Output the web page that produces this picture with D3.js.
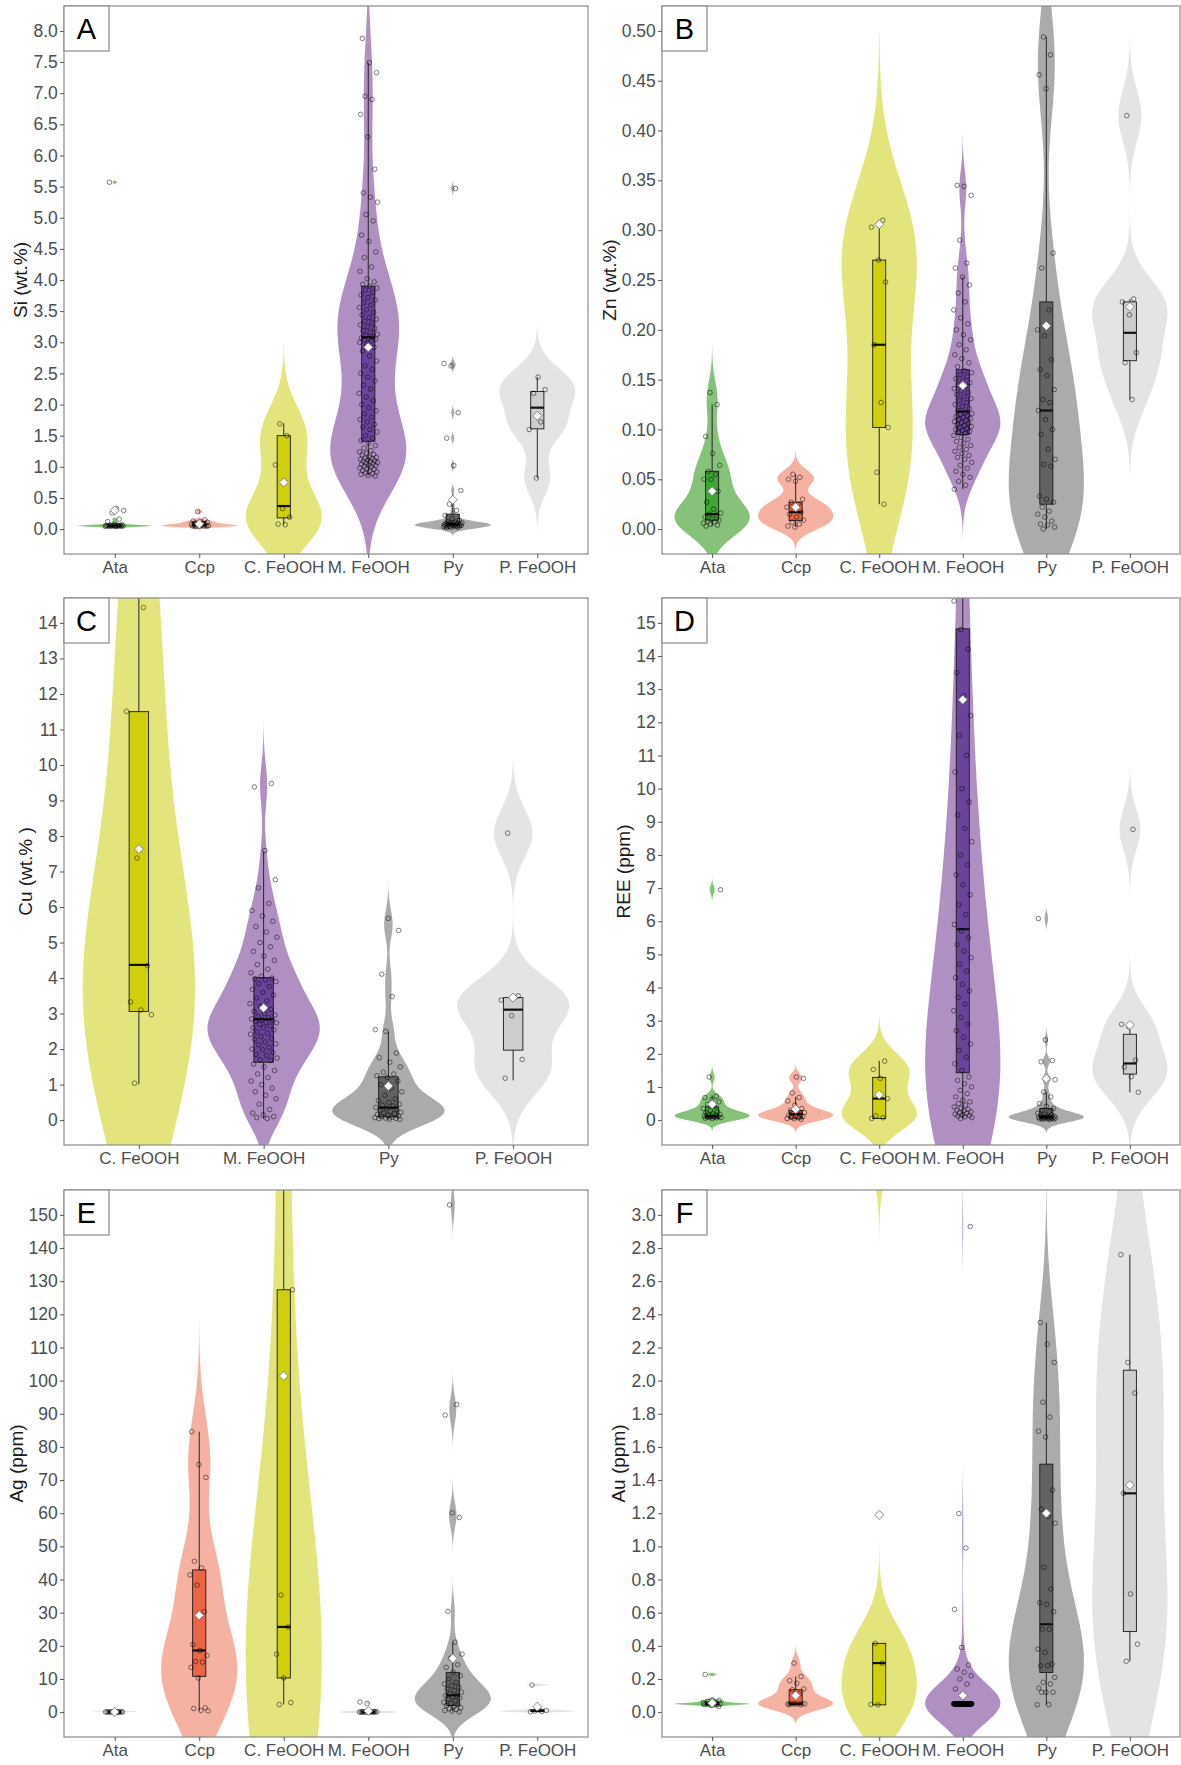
<!DOCTYPE html>
<html>
<head>
<meta charset="utf-8">
<script src="https://cdn.jsdelivr.net/npm/d3@7"></script>
<style>
  body { margin: 0; background: #fff; }
  svg { display: block; }
</style>
</head>
<body>
<svg id="chart" width="1181" height="1765"></svg>
<script>
// categories and colours
const minerals = ["Ata", "Ccp", "C. FeOOH", "M. FeOOH", "Py", "P. FeOOH"]
const mineralsCu = ["C. FeOOH", "M. FeOOH", "Py", "P. FeOOH"]
const violinFill = { "Ata": "#86c27a", "Ccp": "#f5b2a3", "C. FeOOH": "#e3e57c", "M. FeOOH": "#b08fc2", "Py": "#ababab", "P. FeOOH": "#e4e4e4" }
const boxFill = { "Ata": "#3fa535", "Ccp": "#eb6446", "C. FeOOH": "#cfcf0d", "M. FeOOH": "#6a449b", "Py": "#626262", "P. FeOOH": "#cdcdcd" }

// box stats per category: [lower whisker, q1, median, q3, upper whisker, mean]

// A - Si (wt.%)
const siAta = [0.04, 0.042, 0.044, 0.046, 0.048, 0.05, 0.05, 0.05, 0.05, 0.052, 0.054, 0.056, 0.058, 0.06, 0.062, 0.065, 0.07, 0.08, 0.12, 0.16, 0.26, 0.30, 0.33, 5.57]
const siCcp = [0.04, 0.045, 0.048, 0.05, 0.05, 0.052, 0.055, 0.058, 0.06, 0.065, 0.07, 0.08, 0.09, 0.1, 0.11, 0.12, 0.13, 0.15, 0.28]
const siCFeOOH = [0.07, 0.08, 0.19, 0.33, 1.03, 1.5, 1.69]
const siMFeOOH = [0.85, 0.86, 0.88, 0.89, 0.90, 0.92, 0.93, 0.94, 0.96, 0.97, 0.98, 1.00, 1.01, 1.02, 1.03, 1.04, 1.05, 1.06, 1.07, 1.08, 1.09, 1.10, 1.11, 1.12, 1.13, 1.14, 1.15, 1.16, 1.19, 1.20, 1.22, 1.24, 1.26, 1.30, 1.34, 1.38,
  1.42, 1.46, 1.50, 1.56, 1.60, 1.64, 1.68, 1.72, 1.76, 1.80, 1.85, 1.90, 1.95, 2.00, 2.06, 2.12, 2.18, 2.25, 2.31, 2.38, 2.44, 2.50, 2.56, 2.62, 2.70, 2.78, 2.86, 2.92, 2.96, 3.00, 3.02, 3.04, 3.05, 3.06, 3.07,
  3.09, 3.11, 3.13, 3.16, 3.19, 3.22, 3.25, 3.28, 3.31, 3.34, 3.37, 3.40, 3.44, 3.48, 3.52, 3.56, 3.60, 3.64, 3.68, 3.72, 3.76, 3.80, 3.84, 3.87, 3.90,
  3.93, 3.97, 4.02, 4.14, 4.21, 4.36, 4.45, 4.62, 4.72, 4.95, 5.05, 5.25, 5.33, 5.40, 5.78, 6.30, 6.66, 6.90, 6.95, 7.33, 7.49, 7.88]
const siPy = [0.02, 0.03, 0.03, 0.04, 0.04, 0.04, 0.05, 0.05, 0.05, 0.05, 0.05, 0.06, 0.06, 0.06, 0.06, 0.07, 0.07, 0.07, 0.08, 0.08, 0.08, 0.09, 0.09, 0.1, 0.1, 0.11, 0.12, 0.14, 0.17, 0.22, 0.3, 0.4, 0.62, 1.02, 1.46, 1.87, 2.62, 2.66, 5.47]
const siPFeOOH = [0.82, 1.6, 1.72, 2.18, 2.24, 2.44]
const siBox = [[0.04, 0.048, 0.05, 0.06, 0.08, 0.30], [0.04, 0.05, 0.065, 0.12, 0.15, 0.08], [0.07, 0.18, 0.37, 1.50, 1.70, 0.75],
  [0.86, 1.41, 3.08, 3.90, 7.49, 2.92], [0.02, 0.06, 0.08, 0.24, 0.56, 0.47], [0.82, 1.61, 1.95, 2.21, 2.44, 1.82]]
const siLimits = [0, 8]
const siTicks = [0, 0.5, 1, 1.5, 2, 2.5, 3, 3.5, 4, 4.5, 5, 5.5, 6, 6.5, 7, 7.5, 8]

// B - Zn (wt.%)
const znAta = [0.003, 0.004, 0.005, 0.006, 0.007, 0.008, 0.009, 0.01, 0.012, 0.014, 0.015, 0.016, 0.02, 0.027, 0.038, 0.05, 0.05, 0.055, 0.058, 0.064, 0.076, 0.093, 0.125, 0.137]
const znCcp = [0.002, 0.003, 0.005, 0.007, 0.009, 0.012, 0.015, 0.017, 0.019, 0.022, 0.025, 0.027, 0.03, 0.048, 0.05, 0.052, 0.055]
const znCFeOOH = [0.025, 0.057, 0.102, 0.127, 0.185, 0.248, 0.270, 0.303, 0.31]
const znMFeOOH = [0.040, 0.044, 0.048, 0.052, 0.055, 0.058, 0.061, 0.064, 0.067, 0.070, 0.072, 0.074, 0.076, 0.078, 0.080, 0.082, 0.084, 0.086, 0.088, 0.090, 0.092, 0.094,
  0.096, 0.097, 0.098, 0.099, 0.100, 0.101, 0.102, 0.103, 0.104, 0.105, 0.106, 0.107, 0.108, 0.109, 0.110, 0.111, 0.112, 0.113, 0.114, 0.115, 0.116, 0.117,
  0.119, 0.121, 0.123, 0.125, 0.127, 0.129, 0.131, 0.133, 0.135, 0.137, 0.139, 0.141, 0.143, 0.145, 0.147, 0.149, 0.151, 0.153, 0.155, 0.157, 0.159,
  0.163, 0.167, 0.171, 0.175, 0.180, 0.185, 0.190, 0.195, 0.200, 0.206, 0.212, 0.220, 0.228, 0.237, 0.245, 0.253, 0.262, 0.267, 0.290, 0.335, 0.344, 0.345]
const znPy = [0.0, 0.002, 0.004, 0.005, 0.008, 0.012, 0.015, 0.018, 0.022, 0.027, 0.03, 0.033, 0.063, 0.065, 0.07, 0.08, 0.095, 0.1, 0.11, 0.119, 0.127, 0.13, 0.14, 0.154, 0.16, 0.17, 0.194, 0.2, 0.22, 0.262, 0.277, 0.442, 0.456, 0.476, 0.494]
const znPFeOOH = [0.130, 0.167, 0.177, 0.215, 0.228, 0.231, 0.415]
const znBox = [[0.003, 0.009, 0.015, 0.058, 0.125, 0.038], [0.002, 0.0085, 0.017, 0.027, 0.055, 0.022], [0.025, 0.102, 0.185, 0.270, 0.305, 0.306],
  [0.040, 0.095, 0.118, 0.160, 0.253, 0.144], [0.0, 0.025, 0.119, 0.228, 0.494, 0.204], [0.130, 0.169, 0.197, 0.228, 0.231, 0.223]]
const znLimits = [0, 0.5]
const znTicks = [0, 0.05, 0.1, 0.15, 0.2, 0.25, 0.3, 0.35, 0.4, 0.45, 0.5]

// C - Cu (wt.%)
const cuCFeOOH = [1.04, 2.97, 3.1, 3.33, 4.35, 7.38, 11.51, 14.43, 21.8]
const cuMFeOOH = [0.05, 0.07, 0.1, 0.15, 0.2, 0.3, 0.45, 0.6, 0.7, 0.8, 0.9, 1.0, 1.1, 1.2, 1.3, 1.4, 1.5, 1.58,
  1.68, 1.70, 1.75, 1.82, 1.85, 1.90, 1.98, 2.00, 2.05, 2.12, 2.15, 2.20, 2.28, 2.30, 2.35, 2.42, 2.45, 2.48, 2.54, 2.60, 2.60, 2.65, 2.70, 2.74, 2.75, 2.78, 2.81, 2.82,
  2.85, 2.88, 2.92, 2.96, 3.00, 3.06, 3.12, 3.20, 3.28, 3.36, 3.44, 3.52, 3.60, 3.68, 3.76, 3.84, 3.90, 3.95, 3.98, 4.00,
  4.05, 4.15, 4.25, 4.38, 4.50, 4.62, 4.75, 4.88, 5.00, 5.15, 5.30, 5.45, 5.60, 5.75, 5.90, 6.10, 6.54, 6.77, 7.59, 9.38, 9.48]
const cuPy = [0.02, 0.03, 0.04, 0.05, 0.06, 0.07, 0.08, 0.1, 0.12, 0.14, 0.16, 0.18, 0.2, 0.22, 0.25, 0.28, 0.3, 0.33, 0.36, 0.4, 0.42, 0.45, 0.5, 0.55, 0.6, 0.7, 0.8, 0.9, 1.0, 1.1, 1.2, 1.25, 1.3, 1.35, 1.5, 1.63, 1.76, 1.89, 2.5, 2.55, 3.48, 4.11, 5.34, 5.68]
const cuPFeOOH = [1.18, 1.71, 2.94, 3.38, 3.50, 8.08]
const cuBox = [[1.01, 3.06, 4.37, 11.5, 21.8, 7.63], [0.03, 1.63, 2.84, 4.01, 7.56, 3.16], [0.02, 0.09, 0.35, 1.22, 2.49, 0.96], [1.12, 1.97, 3.11, 3.45, 3.45, 3.45]]
const cuLimits = [0, 14]
const cuTicks = [0, 1, 2, 3, 4, 5, 6, 7, 8, 9, 10, 11, 12, 13, 14]

// D - REE (ppm)
const reeAta = [0.05, 0.06, 0.07, 0.08, 0.08, 0.09, 0.1, 0.11, 0.12, 0.13, 0.14, 0.15, 0.17, 0.19, 0.22, 0.26, 0.3, 0.35, 0.42, 0.48, 0.55, 0.62, 0.68, 0.72, 1.3, 6.95]
const reeCcp = [0.03, 0.04, 0.05, 0.07, 0.09, 0.11, 0.13, 0.15, 0.18, 0.2, 0.23, 0.26, 0.3, 0.35, 0.45, 0.58, 0.68, 0.82, 1.26, 1.3]
const reeCFeOOH = [0.05, 0.07, 0.13, 0.65, 1.26, 1.53, 1.78]
const reeMFeOOH = [0.05, 0.08, 0.10, 0.12, 0.14, 0.16, 0.18, 0.20, 0.22, 0.25, 0.28, 0.30, 0.33, 0.36, 0.40, 0.45, 0.50, 0.55, 0.60, 0.70, 0.80, 0.90, 1.00, 1.10, 1.20, 1.30,
  1.50, 1.70, 1.90, 2.10, 2.30, 2.50, 2.70, 2.90, 3.10, 3.30, 3.50, 3.70, 3.90, 4.10, 4.30, 4.50, 4.70, 4.90, 5.10, 5.30, 5.50, 5.70,
  5.90, 6.20, 6.50, 6.80, 7.10, 7.40, 7.70, 8.00, 8.40, 8.80, 9.20, 9.60, 10.00, 10.50, 11.00, 11.60, 12.20, 12.80, 13.50, 14.20, 14.80,
  15.66, 16.5, 18, 20, 23, 27, 32, 38, 46, 58, 75, 95]
const reePy = [0.02, 0.03, 0.03, 0.04, 0.04, 0.05, 0.05, 0.06, 0.06, 0.07, 0.07, 0.08, 0.08, 0.09, 0.1, 0.11, 0.12, 0.14, 0.16, 0.18, 0.21, 0.25, 0.3, 0.35, 0.42, 0.5, 0.7, 0.85, 1.22, 1.25, 1.76, 1.8, 2.42, 6.08]
const reePFeOOH = [0.84, 1.31, 1.6, 1.81, 2.82, 2.89, 8.77]
const reeBox = [[0.05, 0.06, 0.12, 0.40, 0.75, 0.48], [0.03, 0.04, 0.18, 0.29, 0.70, 0.33], [0.05, 0.05, 0.65, 1.29, 1.79, 0.77],
  [0.05, 1.43, 5.76, 14.82, 40, 12.68], [0.02, 0.04, 0.10, 0.35, 0.85, 1.25], [0.84, 1.39, 1.71, 2.59, 2.87, 2.87]]
const reeLimits = [0, 15]
const reeTicks = [0, 1, 2, 3, 4, 5, 6, 7, 8, 9, 10, 11, 12, 13, 14, 15]

// E - Ag (ppm)
const agAta = [0.05, 0.05, 0.05, 0.05, 0.05, 0.05, 0.05, 0.05, 0.05, 0.05, 0.05, 0.05, 0.05, 0.05]
const agCcp = [0.4, 0.5, 1.1, 1.3, 10.3, 13.5, 15.1, 15.3, 17.1, 18.6, 20.4, 30.3, 38.3, 41.4, 43.5, 45.5, 70.8, 74.7, 84.6]
const agCFeOOH = [2.3, 2.9, 10.3, 17.5, 25.7, 35.3, 127.4, 240, 451]
const agMFeOOH = [0.01, 0.01, 0.02, 0.02, 0.03, 0.03, 0.04, 0.05, 0.05, 0.06, 0.07, 0.08, 0.1, 0.12, 0.15, 0.2, 2.6, 3.05]
const agPy = [0.1, 0.3, 0.5, 0.8, 1.0, 1.3, 1.6, 2.0, 2.3, 2.7, 3.0, 3.4, 3.8, 4.2, 4.6, 5.0, 5.1, 5.5, 6.0, 6.5, 7.0, 7.5, 8.0, 8.5, 9.0, 10.0, 11.0, 12.0, 13.5, 14.3, 16.3, 17.5, 21.1, 30.4, 58.7, 60.1, 89.6, 92.8, 153]
const agPFeOOH = [0.1, 0.2, 0.3, 0.5, 0.7, 8.2]
const agBox = [[0.05, 0.05, 0.05, 0.05, 0.05, 0.05], [0.4, 10.8, 18.6, 42.9, 84.6, 29.2], [2.3, 10.3, 25.7, 127.4, 240, 101.4],
  [0.01, 0.03, 0.05, 0.1, 0.2, 0.37], [0.1, 2.0, 5.1, 12.0, 21.1, 16.2], [0.1, 0.2, 0.4, 0.65, 0.7, 1.67]]
const agLimits = [0, 150]
const agTicks = [0, 10, 20, 30, 40, 50, 60, 70, 80, 90, 100, 110, 120, 130, 140, 150]

// F - Au (ppm)
const auAta = [0.035, 0.04, 0.045, 0.045, 0.05, 0.05, 0.05, 0.05, 0.05, 0.055, 0.055, 0.06, 0.065, 0.07, 0.075, 0.227]
const auCcp = [0.045, 0.045, 0.05, 0.05, 0.05, 0.05, 0.05, 0.05, 0.05, 0.11, 0.135, 0.14, 0.174, 0.19, 0.215, 0.296]
const auCFeOOH = [0.044, 0.046, 0.296, 0.415, 3.45]
const auMFeOOH = [0.05, 0.05, 0.05, 0.05, 0.05, 0.05, 0.05, 0.05, 0.05, 0.05, 0.05, 0.05, 0.05, 0.05, 0.05, 0.05, 0.05, 0.05, 0.05, 0.05, 0.05, 0.05,
  0.05, 0.05, 0.05, 0.05, 0.05, 0.05, 0.05, 0.05, 0.05, 0.05, 0.05, 0.05, 0.05, 0.05, 0.05, 0.05, 0.05, 0.05, 0.05, 0.05, 0.05, 0.05,
  0.05, 0.05, 0.05, 0.05, 0.05, 0.05, 0.05, 0.05, 0.05, 0.05, 0.05, 0.05, 0.05, 0.05, 0.05, 0.05, 0.05, 0.05, 0.05, 0.05, 0.05, 0.05,
  0.05, 0.05, 0.05, 0.05, 0.05, 0.05, 0.05, 0.05, 0.05, 0.05, 0.05, 0.05, 0.05, 0.05, 0.05, 0.05, 0.05, 0.05, 0.05, 0.05, 0.05, 0.05,
  0.14, 0.17, 0.2, 0.22, 0.24, 0.26, 0.284, 0.39, 0.62, 0.99, 1.198, 2.93]
const auPy = [0.045, 0.045, 0.12, 0.12, 0.12, 0.145, 0.17, 0.18, 0.21, 0.28, 0.28, 0.29, 0.36, 0.38, 0.5, 0.5, 0.606, 0.65, 0.66, 0.743, 0.874, 1.14, 1.18, 1.225, 1.34, 1.66, 1.695, 1.78, 1.87, 2.11, 2.22, 2.35]
const auPFeOOH = [0.307, 0.41, 0.713, 1.32, 1.925, 2.11, 2.76]
const auBox = [[0.035, 0.045, 0.05, 0.06, 0.075, 0.055], [0.045, 0.048, 0.05, 0.135, 0.215, 0.10], [0.044, 0.044, 0.296, 0.415, 0.415, 1.19],
  [0.05, 0.05, 0.05, 0.05, 0.05, 0.10], [0.045, 0.239, 0.53, 1.496, 2.35, 1.20], [0.307, 0.486, 1.32, 2.063, 2.76, 1.37]]
const auLimits = [0, 3]
const auTicks = [0, 0.2, 0.4, 0.6, 0.8, 1.0, 1.2, 1.4, 1.6, 1.8, 2.0, 2.2, 2.4, 2.6, 2.8, 3.0]

const FONT = '"Liberation Sans", Arial, Helvetica, sans-serif'
const colX = [[64, 588], [662, 1180]]
const rowY = [[6, 554], [598, 1145], [1190, 1737]]

const panels = [
  { label: "A", title: "Si (wt.%)", cats: minerals, values: [siAta, siCcp, siCFeOOH, siMFeOOH, siPy, siPFeOOH], box: siBox, limits: siLimits, ticks: siTicks, fmt: d3.format(".1f"), col: 0, row: 0 },
  { label: "B", title: "Zn (wt.%)", cats: minerals, values: [znAta, znCcp, znCFeOOH, znMFeOOH, znPy, znPFeOOH], box: znBox, limits: znLimits, ticks: znTicks, fmt: d3.format(".2f"), col: 1, row: 0 },
  { label: "C", title: "Cu (wt.% )", cats: mineralsCu, values: [cuCFeOOH, cuMFeOOH, cuPy, cuPFeOOH], box: cuBox, limits: cuLimits, ticks: cuTicks, fmt: d3.format("d"), col: 0, row: 1 },
  { label: "D", title: "REE (ppm)", cats: minerals, values: [reeAta, reeCcp, reeCFeOOH, reeMFeOOH, reePy, reePFeOOH], box: reeBox, limits: reeLimits, ticks: reeTicks, fmt: d3.format("d"), col: 1, row: 1 },
  { label: "E", title: "Ag (ppm)", cats: minerals, values: [agAta, agCcp, agCFeOOH, agMFeOOH, agPy, agPFeOOH], box: agBox, limits: agLimits, ticks: agTicks, fmt: d3.format("d"), col: 0, row: 2 },
  { label: "F", title: "Au (ppm)", cats: minerals, values: [auAta, auCcp, auCFeOOH, auMFeOOH, auPy, auPFeOOH], box: auBox, limits: auLimits, ticks: auTicks, fmt: d3.format(".1f"), col: 1, row: 2 }
]

const svg = d3.select("#chart").attr("font-family", FONT)

// gaussian kernel density, bandwidth as R's bw.nrd0, tails cut at 3 bandwidths, scaled to max 1
const density = (values) => {
  const n = values.length
  const sd = d3.deviation(values) || 0
  const iqr = d3.quantile(values, 0.75) - d3.quantile(values, 0.25)
  let lo = Math.min(sd, iqr / 1.34)
  if (!lo) lo = sd || Math.abs(values[0]) || 1
  const bw = 0.9 * lo * Math.pow(n, -0.2)
  const [mn, mx] = d3.extent(values)
  const from = mn - 3 * bw, to = mx + 3 * bw
  const k = 1 / (n * bw * Math.sqrt(2 * Math.PI))
  const pts = d3.range(512).map(i => {
    const t = from + (to - from) * i / 511
    return [t, k * d3.sum(values, v => Math.exp(-0.5 * ((t - v) / bw) ** 2))]
  })
  const peak = d3.max(pts, d => d[1])
  return pts.map(([t, d]) => [t, d / peak])
}

const drawPanel = (p, pi) => {
  const [x0, x1] = colX[p.col]
  const [y0, y1] = rowY[p.row]
  const pad = (p.limits[1] - p.limits[0]) * 0.05
  const y = d3.scaleLinear().domain([p.limits[0] - pad, p.limits[1] + pad]).range([y1, y0])
  const x = d3.scalePoint().domain(p.cats).range([x0, x1]).padding(0.6)
  const step = x.step()
  const half = 0.45 * step
  const boxHalf = 0.078 * step

  const g = svg.append("g")
  g.append("clipPath").attr("id", "clip" + pi)
    .append("rect").attr("x", x0).attr("y", y0).attr("width", x1 - x0).attr("height", y1 - y0)
  const plot = g.append("g").attr("clip-path", `url(#clip${pi})`)

  // violins
  p.cats.forEach((cat, ci) => {
    const cx = x(cat)
    const area = d3.area()
      .x0(d => cx - d[1] * half)
      .x1(d => cx + d[1] * half)
      .y(d => y(d[0]))
    plot.append("path").attr("d", area(density(p.values[ci]))).attr("fill", violinFill[cat])
  })

  // boxes
  p.cats.forEach((cat, ci) => {
    const cx = x(cat)
    const [lo, q1, md, q3, hi] = p.box[ci]
    const bg = plot.append("g")
    bg.append("line").attr("x1", cx).attr("x2", cx).attr("y1", y(hi)).attr("y2", y(q3))
      .attr("stroke", "#262626").attr("stroke-width", 1)
    bg.append("line").attr("x1", cx).attr("x2", cx).attr("y1", y(q1)).attr("y2", y(lo))
      .attr("stroke", "#262626").attr("stroke-width", 1)
    bg.append("rect").attr("x", cx - boxHalf).attr("y", y(q3))
      .attr("width", 2 * boxHalf).attr("height", Math.max(y(q1) - y(q3), 0))
      .attr("fill", boxFill[cat]).attr("stroke", "#1a1a1a").attr("stroke-width", 0.9)
    bg.append("line").attr("x1", cx - boxHalf).attr("x2", cx + boxHalf).attr("y1", y(md)).attr("y2", y(md))
      .attr("stroke", "#111").attr("stroke-width", 2.2)
  })

  // jittered points
  p.cats.forEach((cat, ci) => {
    const cx = x(cat)
    plot.append("g").selectAll("circle")
      .data(p.values[ci])
      .join("circle")
      .attr("cx", (d, i) => cx + ((((i * 0.6180339887 + ci * 0.29 + pi * 0.17) % 1) - 0.5) * 2 * 0.11 * step))
      .attr("cy", d => y(d))
      .attr("r", 2.3)
      .attr("fill", "none")
      .attr("stroke", "#000")
      .attr("stroke-opacity", 0.55)
      .attr("stroke-width", 0.9)
  })

  // means
  p.cats.forEach((cat, ci) => {
    const cx = x(cat)
    const my = y(p.box[ci][5])
    const s = 4.5
    plot.append("path")
      .attr("d", `M${cx},${my - s}L${cx + s},${my}L${cx},${my + s}L${cx - s},${my}Z`)
      .attr("fill", "#fff").attr("stroke", "#777").attr("stroke-width", 0.9)
  })

  // panel border
  g.append("rect").attr("x", x0).attr("y", y0).attr("width", x1 - x0).attr("height", y1 - y0)
    .attr("fill", "none").attr("stroke", "#8a8a8a").attr("stroke-width", 1.2)

  // panel letter
  g.append("rect").attr("x", x0).attr("y", y0).attr("width", 45).attr("height", 45)
    .attr("fill", "#fff").attr("stroke", "#8a8a8a").attr("stroke-width", 1.2)
  g.append("text").attr("x", x0 + 22.5).attr("y", y0 + 23).attr("dominant-baseline", "central")
    .attr("text-anchor", "middle").attr("font-size", 29).attr("fill", "#000").text(p.label)

  // axes
  const ya = g.append("g").attr("transform", `translate(${x0},0)`)
    .call(d3.axisLeft(y).tickValues(p.ticks).tickFormat(p.fmt).tickSize(4).tickPadding(2.2))
    .attr("font-family", FONT).attr("font-size", 17.5)
  ya.select(".domain").remove()
  ya.selectAll(".tick line").attr("stroke", "#555")
  ya.selectAll(".tick text").attr("fill", "#4d4d4d")

  const xa = g.append("g").attr("transform", `translate(0,${y1})`)
    .call(d3.axisBottom(x).tickSize(4).tickPadding(2.5))
    .attr("font-family", FONT).attr("font-size", 17)
  xa.select(".domain").remove()
  xa.selectAll(".tick line").attr("stroke", "#555")
  xa.selectAll(".tick text").attr("fill", "#4d4d4d")

  const bb = ya.node().getBBox()
  g.append("text")
    .attr("transform", `translate(${x0 + bb.x - 6},${(y0 + y1) / 2}) rotate(-90)`)
    .attr("text-anchor", "middle").attr("font-size", 19).attr("fill", "#1a1a1a")
    .text(p.title)
}

panels.forEach(drawPanel)
</script>
</body>
</html>
